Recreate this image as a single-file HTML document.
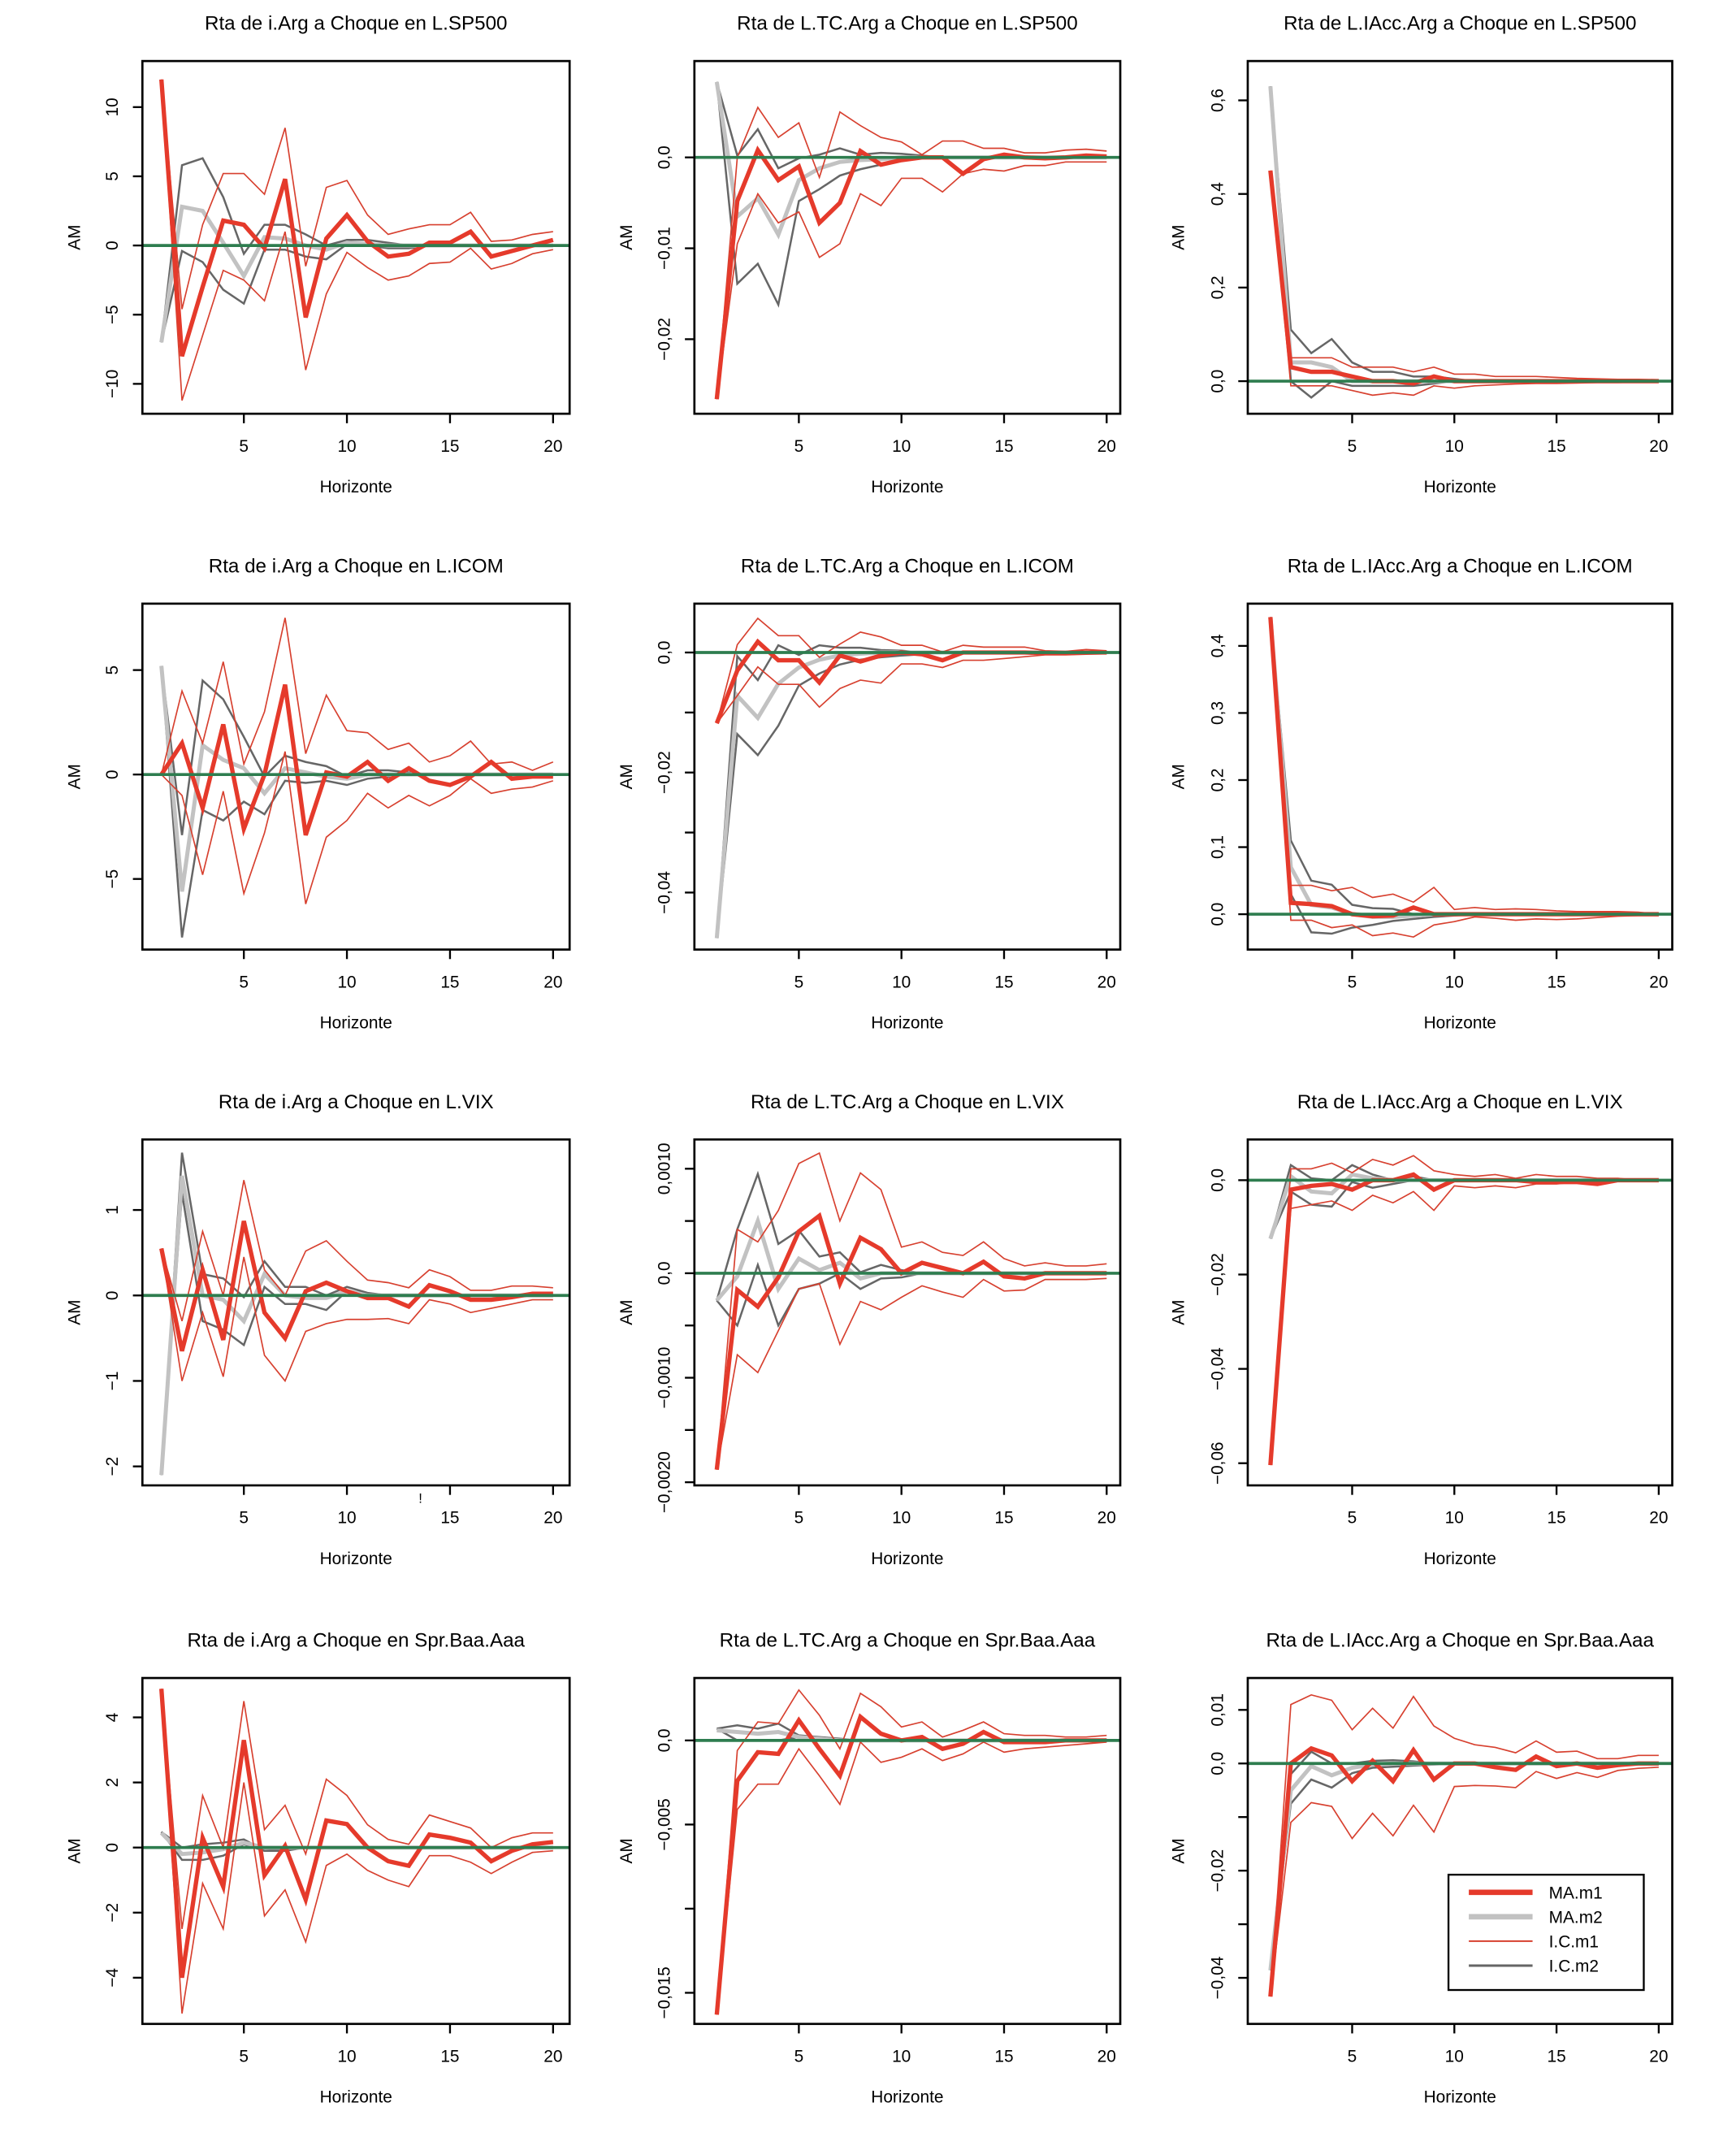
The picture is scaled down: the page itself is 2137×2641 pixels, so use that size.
<!DOCTYPE html>
<html><head><meta charset="utf-8"><title>Impulse responses</title>
<style>html,body{margin:0;padding:0;background:#fff}svg{display:block}text{font-family:"Liberation Sans",Arial,sans-serif;fill:#000}</style>
</head><body>
<svg id="fig" xmlns="http://www.w3.org/2000/svg" width="2137" height="2641" viewBox="0 0 1280 1582" preserveAspectRatio="none"></svg>
<script>
const horizons=[1,2,3,4,5,6,7,8,9,10,11,12,13,14,15,16,17,18,19,20];
const xTicks=[5,10,15,20];
const titles=["Rta de i.Arg a Choque en L.SP500","Rta de L.TC.Arg a Choque en L.SP500","Rta de L.IAcc.Arg a Choque en L.SP500",
"Rta de i.Arg a Choque en L.ICOM","Rta de L.TC.Arg a Choque en L.ICOM","Rta de L.IAcc.Arg a Choque en L.ICOM",
"Rta de i.Arg a Choque en L.VIX","Rta de L.TC.Arg a Choque en L.VIX","Rta de L.IAcc.Arg a Choque en L.VIX",
"Rta de i.Arg a Choque en Spr.Baa.Aaa","Rta de L.TC.Arg a Choque en Spr.Baa.Aaa","Rta de L.IAcc.Arg a Choque en Spr.Baa.Aaa"];
const yTop=[13.33,0.0106,0.684,8.18,0.00814,0.463,1.825,0.00128,0.00863,5.21,0.00371,0.01595];
const yBottom=[-12.16,-0.0282,-0.0696,-8.38,-0.0495,-0.0527,-2.222,-0.00203,-0.0647,-5.42,-0.01685,-0.0486];
const yTickVals=[[-10,-5,0,5,10],[-0.02,-0.01,0],[0,0.2,0.4,0.6],[-5,0,5],[-0.04,-0.03,-0.02,-0.01,0],[0,0.1,0.2,0.3,0.4],
[-2,-1,0,1],[-0.002,-0.0015,-0.001,-0.0005,0,0.0005,0.001],[-0.06,-0.04,-0.02,0],[-4,-2,0,2,4],[-0.015,-0.01,-0.005,0],[-0.04,-0.03,-0.02,-0.01,0,0.01]];
const yTickLabels=[["−10","−5","0","5","10"],["−0,02","−0,01","0,0"],["0,0","0,2","0,4","0,6"],["−5","0","5"],["−0,04","","−0,02","","0,0"],["0,0","0,1","0,2","0,3","0,4"],
["−2","−1","0","1"],["−0,0020","","−0,0010","","0,0","","0,0010"],["−0,06","−0,04","−0,02","0,0"],["−4","−2","0","2","4"],["−0,015","","−0,005","0,0"],["−0,04","","−0,02","","0,0","0,01"]];
// Panel 1
const p1_ma1=[12,-8,-3,1.8,1.5,-0.2,4.8,-5.2,0.5,2.2,0.3,-0.8,-0.6,0.2,0.2,1.0,-0.8,-0.4,0,0.4];
const p1_ma2=[-7,2.8,2.5,0.2,-2.2,0.6,0.5,0,-0.3,0.2,0.1,0,0,0,0,0,0,0,0,0];
const p1_lo1=[12,-11.2,-6.5,-1.8,-2.5,-4,1,-9,-3.5,-0.5,-1.6,-2.5,-2.2,-1.3,-1.2,-0.2,-1.7,-1.3,-0.6,-0.3];
const p1_hi1=[12,-4.6,1.5,5.2,5.2,3.7,8.5,-1.5,4.2,4.7,2.2,0.8,1.2,1.5,1.5,2.4,0.3,0.4,0.8,1.0];
const p1_lo2=[-7,-0.4,-1.2,-3.2,-4.2,-0.3,-0.3,-0.8,-1.0,0.1,0,-0.2,-0.2,0,0,0,0,0,0,0];
const p1_hi2=[-7,5.8,6.3,3.5,-0.6,1.5,1.5,0.8,0,0.4,0.4,0.2,0,0.05,0,0,0,0,0,0];
// Panel 2
const p2_ma1=[-0.0266,-0.0048,0.0008,-0.0025,-0.001,-0.0072,-0.005,0.0007,-0.0008,-0.0003,0,0,-0.0018,-0.0002,0.0003,0,-0.0001,0,0.0002,0.0001];
const p2_ma2=[0.0083,-0.0065,-0.0045,-0.0085,-0.0025,-0.0012,-0.0005,-0.0003,-0.0002,0,0,0,0,0,0,0,0,0,0,0];
const p2_lo1=[-0.0266,-0.0095,-0.004,-0.0072,-0.006,-0.011,-0.0095,-0.004,-0.0053,-0.0023,-0.0023,-0.0038,-0.0018,-0.0013,-0.0015,-0.0009,-0.0009,-0.0005,-0.0005,-0.0005];
const p2_hi1=[-0.0266,0,0.0055,0.0022,0.0038,-0.0022,0.005,0.0035,0.0022,0.0017,0.0003,0.0018,0.0018,0.001,0.001,0.0005,0.0005,0.0008,0.0009,0.0007];
const p2_lo2=[0.0083,-0.0139,-0.0117,-0.0162,-0.0048,-0.0035,-0.002,-0.0013,-0.0008,-0.0003,0,0,0,0,0,0,0,0,0,0];
const p2_hi2=[0.0083,0.0002,0.0031,-0.0012,-0.0001,0.0003,0.001,0.0003,0.0005,0.0004,0.0002,0,0,0,0,0,0,0,0,0];
// Panel 3
const p3_ma1=[0.45,0.03,0.02,0.02,0.01,0,0,-0.005,0.01,0,0,0,0,0,0,0,0,0,0,0];
const p3_ma2=[0.63,0.04,0.04,0.03,0,0,0,0,0,0,0,0,0,0,0,0,0,0,0,0];
const p3_lo1=[0.45,-0.01,-0.01,-0.01,-0.02,-0.03,-0.025,-0.03,-0.01,-0.015,-0.01,-0.008,-0.006,-0.005,-0.005,-0.004,-0.003,-0.003,-0.002,-0.002];
const p3_hi1=[0.45,0.05,0.05,0.05,0.03,0.03,0.03,0.02,0.03,0.015,0.015,0.01,0.01,0.01,0.008,0.006,0.005,0.004,0.004,0.003];
const p3_lo2=[0.63,0,-0.035,0,-0.01,-0.01,-0.01,-0.01,-0.005,0,0,0,0,0,0,0,0,0,0,0];
const p3_hi2=[0.63,0.11,0.06,0.09,0.04,0.02,0.02,0.01,0.01,0.005,0,0,0,0,0,0,0,0,0,0];
// Panel 4
const p4_ma1=[0,1.5,-1.6,2.4,-2.6,0,4.3,-2.9,0.1,-0.1,0.6,-0.3,0.3,-0.3,-0.5,-0.1,0.6,-0.2,-0.1,-0.1];
const p4_ma2=[5.2,-5.6,1.4,0.7,0.3,-0.9,0.3,0.1,-0.1,-0.2,0,0,0,0,0,0,0,0,0,0];
const p4_lo1=[0,-1.0,-4.8,-0.8,-5.7,-2.8,1.1,-6.2,-3.0,-2.2,-0.9,-1.6,-1.0,-1.5,-1.0,-0.2,-0.9,-0.7,-0.6,-0.3];
const p4_hi1=[0,4.0,1.5,5.4,0.5,3.0,7.5,1.0,3.8,2.1,2.0,1.2,1.5,0.6,0.9,1.6,0.5,0.6,0.2,0.6];
const p4_lo2=[5.2,-7.8,-1.7,-2.2,-1.3,-1.9,-0.3,-0.4,-0.3,-0.5,-0.2,-0.1,0,0,0,0,0,0,0,0];
const p4_hi2=[5.2,-2.9,4.5,3.6,1.8,-0.1,0.9,0.6,0.4,-0.1,0.2,0.2,0.1,0,0,0,0,0,0,0];
// Panel 5
const p5_ma1=[-0.0118,-0.003,0.0018,-0.0013,-0.0013,-0.005,-0.0005,-0.0015,-0.0005,0,-0.0003,-0.0013,0,0,0,0,-0.0001,-0.0001,0,0];
const p5_ma2=[-0.0476,-0.0072,-0.0109,-0.0052,-0.0025,-0.0012,-0.0005,-0.0002,0,0,0,0,0,0,0,0,0,0,0,0];
const p5_lo1=[-0.0118,-0.0072,-0.0024,-0.0053,-0.0053,-0.0091,-0.006,-0.0046,-0.0051,-0.0019,-0.0019,-0.0025,-0.0013,-0.0013,-0.001,-0.0007,-0.0004,-0.0004,-0.0003,-0.0002];
const p5_hi1=[-0.0118,0.0013,0.0057,0.0028,0.0028,-0.0008,0.0014,0.0034,0.0026,0.0012,0.0012,0.0001,0.0012,0.0009,0.0009,0.0009,0.0003,0.0002,0.0005,0.0003];
const p5_lo2=[-0.0476,-0.0136,-0.0171,-0.0122,-0.0055,-0.0035,-0.002,-0.0012,-0.0008,-0.0005,-0.0003,0,0,0,0,0,0,0,0,0];
const p5_hi2=[-0.0476,-0.0006,-0.0046,0.0012,-0.0004,0.0012,0.0008,0.0008,0.0004,0.0003,0,0,0,0,0,0,0,0,0,0];
// Panel 6
const p6_ma1=[0.443,0.017,0.015,0.012,0,-0.003,-0.002,0.01,0,0,0,0,0,0,0,0,0,0,0,0];
const p6_ma2=[0.443,0.07,0.014,0.01,0,-0.004,-0.004,-0.002,0,0,0,0,0,0,0,0,0,0,0,0];
const p6_lo1=[0.443,-0.009,-0.009,-0.02,-0.016,-0.032,-0.028,-0.034,-0.016,-0.011,-0.004,-0.006,-0.009,-0.007,-0.008,-0.007,-0.005,-0.003,-0.002,-0.002];
const p6_hi1=[0.443,0.043,0.043,0.035,0.04,0.025,0.03,0.018,0.04,0.007,0.01,0.007,0.008,0.007,0.005,0.004,0.004,0.004,0.003,0];
const p6_lo2=[0.443,0.03,-0.027,-0.029,-0.02,-0.016,-0.01,-0.007,-0.004,-0.002,0,0,0,0,0,0,0,0,0,0];
const p6_hi2=[0.443,0.11,0.05,0.044,0.014,0.009,0.008,0,0,0,0,0,0,0,0,0,0,0,0,0];
// Panel 7
const p7_ma1=[0.55,-0.65,0.3,-0.52,0.87,-0.2,-0.5,0.05,0.15,0.05,-0.03,-0.03,-0.13,0.12,0.05,-0.05,-0.05,-0.02,0.02,0.02];
const p7_ma2=[-2.1,1.4,0,-0.05,-0.3,0.25,0,-0.03,-0.03,0.05,0,0,0,0,0,0,0,0,0,0];
const p7_lo1=[0.55,-1.0,-0.2,-0.95,0.45,-0.7,-1.0,-0.42,-0.33,-0.28,-0.28,-0.27,-0.33,-0.05,-0.1,-0.2,-0.15,-0.1,-0.05,-0.05];
const p7_hi1=[0.55,-0.3,0.75,0,1.35,0.3,0,0.52,0.64,0.4,0.18,0.15,0.09,0.3,0.22,0.06,0.06,0.11,0.11,0.09];
const p7_lo2=[-2.1,1.2,-0.3,-0.4,-0.58,0.1,-0.1,-0.1,-0.17,0.05,0,0,0,0,0,0,0,0,0,0];
const p7_hi2=[-2.1,1.67,0.25,0.2,-0.02,0.4,0.1,0.1,0,0.1,0.03,0,0,0,0,0,0,0,0,0];
// Panel 8
const p8_ma1=[-0.00188,-0.00016,-0.00032,-0.00004,0.0004,0.00055,-0.0001,0.00034,0.00023,0,0.0001,0.00005,0,0.00011,-0.00003,-0.00005,0,0,0,0];
const p8_ma2=[-0.00026,-0.00003,0.0005,-0.00015,0.00014,0.00003,0.0001,-0.00005,0,0,0,0,0,0,0,0,0,0,0,0];
const p8_lo1=[-0.00188,-0.00078,-0.00095,-0.00055,-0.00015,-0.0001,-0.00068,-0.00027,-0.00035,-0.00023,-0.00012,-0.00018,-0.00023,-0.00006,-0.00017,-0.00016,-0.00006,-0.00006,-0.00006,-0.00005];
const p8_hi1=[-0.00188,0.00042,0.0003,0.0006,0.00105,0.00115,0.0005,0.00096,0.0008,0.00025,0.0003,0.0002,0.00017,0.0003,0.00014,0.00007,0.0001,0.00007,0.00007,0.00009];
const p8_lo2=[-0.00026,-0.0005,0.00008,-0.0005,-0.00015,-0.0001,0,-0.00015,-0.00005,-0.00004,0,0,0,0,0,0,0,0,0,0];
const p8_hi2=[-0.00026,0.00042,0.00095,0.00028,0.00041,0.00016,0.0002,0.00001,0.00008,0.00003,0,0,0,0,0,0,0,0,0,0];
// Panel 9
const p9_ma1=[-0.0604,-0.002,-0.0012,-0.0008,-0.002,0,0,0.0012,-0.002,0,0,0,0,-0.0004,-0.0004,-0.0004,-0.0008,0,0,0];
const p9_ma2=[-0.0124,0.0008,-0.0024,-0.0028,0.0012,0.0004,0,0,0,0,0,0,0,0,0,0,0,0,0,0];
const p9_lo1=[-0.0604,-0.006,-0.0052,-0.0044,-0.0064,-0.0032,-0.0048,-0.0024,-0.0064,-0.0012,-0.0016,-0.0012,-0.0016,-0.0008,-0.0008,-0.0004,-0.0004,0,0,0];
const p9_hi1=[-0.0604,0.0024,0.0024,0.0036,0.0016,0.0044,0.0032,0.0052,0.002,0.0012,0.0008,0.0012,0.0004,0.0012,0.0008,0.0008,0.0004,0.0004,0,0];
const p9_lo2=[-0.0124,-0.0024,-0.0052,-0.0056,-0.0004,-0.0016,-0.0008,0,0,0,0,0,0,0,0,0,0,0,0,0];
const p9_hi2=[-0.0124,0.0032,0.0004,0,0.0032,0.0012,0,0.0008,0,0,0,0,0,0,0,0,0,0,0,0];
// Panel 10
const p10_ma1=[4.88,-4.0,0.3,-1.2,3.3,-0.85,0.05,-1.6,0.83,0.72,0,-0.42,-0.56,0.4,0.3,0.15,-0.42,-0.1,0.1,0.17];
const p10_ma2=[0.45,-0.2,-0.15,-0.05,0.15,0,0,0,0,0,0,0,0,0,0,0,0,0,0,0];
const p10_lo1=[4.88,-5.1,-1.1,-2.5,2.0,-2.1,-1.3,-2.9,-0.55,-0.2,-0.7,-1.0,-1.2,-0.25,-0.25,-0.45,-0.8,-0.45,-0.15,-0.1];
const p10_hi1=[4.88,-2.5,1.6,0,4.5,0.55,1.3,-0.2,2.1,1.6,0.7,0.25,0.1,1.0,0.8,0.6,0,0.3,0.45,0.45];
const p10_lo2=[0.48,-0.38,-0.38,-0.25,0.1,-0.1,-0.05,0,0,0,0,0,0,0,0,0,0,0,0,0];
const p10_hi2=[0.48,0,0.1,0.15,0.25,-0.1,-0.1,0,0,0,0,0,0,0,0,0,0,0,0,0];
// Panel 11
const p11_ma1=[-0.0163,-0.0024,-0.0007,-0.0008,0.0012,-0.0005,-0.0021,0.0014,0.0004,0,0.0002,-0.0005,-0.0002,0.0005,-0.0001,-0.0001,-0.0001,0,0,0];
const p11_ma2=[0.0006,0.0005,0.0004,0.0005,0.0002,0.0001,0,0,0,0,0,0,0,0,0,0,0,0,0,0];
const p11_lo1=[-0.0163,-0.0041,-0.0026,-0.0026,-0.0005,-0.0021,-0.0038,-0.0001,-0.0013,-0.001,-0.0005,-0.0012,-0.0008,-0.0001,-0.0007,-0.0005,-0.0004,-0.0003,-0.0002,-0.0001];
const p11_hi1=[-0.0163,-0.0006,0.0011,0.001,0.003,0.0015,-0.0005,0.0028,0.002,0.0008,0.0011,0.0002,0.0006,0.0011,0.0004,0.0003,0.0003,0.0002,0.0002,0.0003];
const p11_lo2=[0.0007,0,0,0,0.0002,0.0001,0,0,0,0,0,0,0,0,0,0,0,0,0,0];
const p11_hi2=[0.0007,0.0009,0.0007,0.001,0.0003,0.0002,0.0001,0,0,0,0,0,0,0,0,0,0,0,0,0];
// Panel 12
const p12_ma1=[-0.0435,0,0.0028,0.0015,-0.0033,0.0005,-0.0033,0.0025,-0.003,0,0,-0.0007,-0.0012,0.0013,-0.0005,0,-0.0008,-0.0003,0,0];
const p12_ma2=[-0.0386,-0.005,-0.0005,-0.0022,-0.0008,-0.0002,0,0,0,0,0,0,0,0,0,0,0,0,0,0];
const p12_lo1=[-0.0435,-0.011,-0.0073,-0.008,-0.014,-0.0093,-0.0135,-0.0078,-0.0128,-0.0043,-0.0041,-0.0042,-0.0045,-0.0015,-0.0028,-0.0017,-0.0026,-0.0013,-0.0009,-0.0007];
const p12_hi1=[-0.0435,0.011,0.0128,0.0118,0.0063,0.0103,0.0066,0.0125,0.007,0.0047,0.0035,0.003,0.002,0.0042,0.0021,0.0023,0.0009,0.0009,0.0015,0.0015];
const p12_lo2=[-0.0386,-0.0075,-0.003,-0.0045,-0.0018,-0.0008,-0.0006,-0.0004,-0.0002,0,0,0,0,0,0,0,0,0,0,0];
const p12_hi2=[-0.0386,-0.002,0.0022,0,0,0.0005,0.0006,0.0004,0,0,0,0,0,0,0,0,0,0,0,0];
const panels=[
[p1_ma1,p1_ma2,p1_lo1,p1_hi1,p1_lo2,p1_hi2],[p2_ma1,p2_ma2,p2_lo1,p2_hi1,p2_lo2,p2_hi2],[p3_ma1,p3_ma2,p3_lo1,p3_hi1,p3_lo2,p3_hi2],
[p4_ma1,p4_ma2,p4_lo1,p4_hi1,p4_lo2,p4_hi2],[p5_ma1,p5_ma2,p5_lo1,p5_hi1,p5_lo2,p5_hi2],[p6_ma1,p6_ma2,p6_lo1,p6_hi1,p6_lo2,p6_hi2],
[p7_ma1,p7_ma2,p7_lo1,p7_hi1,p7_lo2,p7_hi2],[p8_ma1,p8_ma2,p8_lo1,p8_hi1,p8_lo2,p8_hi2],[p9_ma1,p9_ma2,p9_lo1,p9_hi1,p9_lo2,p9_hi2],
[p10_ma1,p10_ma2,p10_lo1,p10_hi1,p10_lo2,p10_hi2],[p11_ma1,p11_ma2,p11_lo1,p11_hi1,p11_lo2,p11_hi2],[p12_ma1,p12_ma2,p12_lo1,p12_hi1,p12_lo2,p12_hi2]];
const legendLabels=["MA.m1","MA.m2","I.C.m1","I.C.m2"];

const NS="http://www.w3.org/2000/svg";
const svg=document.getElementById('fig');
const boxX=[[105,420],[512,826],[920,1233]];
const boxY=[[45,305],[445,700],[840,1095],[1237,1492]];
const xMap=[[119,15.2],[528.5,15.13],[936.7,15.07]];
function mk(tag,attrs,parent){const e=document.createElementNS(NS,tag);for(const k in attrs)e.setAttribute(k,attrs[k]);(parent||svg).appendChild(e);return e;}
function txt(s,x,y,size,parent,extra){const t=mk('text',Object.assign({x:x,y:y,'font-size':size,'text-anchor':'middle'},extra||{}),parent);t.textContent=s;return t;}

for(let p=0;p<12;p++){
  const c=p%3,r=Math.floor(p/3);
  const [x0,x1]=boxX[c],[y0,y1]=boxY[r];
  const g=mk('g',{});
  
  
  const sx=h=>xMap[c][0]+(h-1)*xMap[c][1];
  const sy=v=>y0+(yTop[p]-v)/(yTop[p]-yBottom[p])*(y1-y0);
  const t=txt(titles[p],(x0+x1)/2,y0-23,14.5,g);
  
  
  xTicks.forEach(h=>{
    mk('line',{x1:sx(h),x2:sx(h),y1:y1,y2:y1+7,stroke:'#000','stroke-width':1.4},g);
    const l=txt(String(h),sx(h),y1+28,12.5,g);
    
    
  });
  const xl=txt('Horizonte',(x0+x1)/2,y1+58,12.5,g);
  
  
  const lx=[83,490,898][c];
  yTickVals[p].forEach((v,i)=>{
    mk('line',{x1:x0-7,x2:x0,y1:sy(v),y2:sy(v),stroke:'#000','stroke-width':1.4},g);
    const s=yTickLabels[p][i];
    if(s){const l=txt(s,lx,sy(v),12.5,g,{transform:'rotate(-90 '+lx+' '+sy(v)+')','dominant-baseline':'central'});
      
      }
  });
  const ax=[55,462,869][c],ay=(y0+y1)/2;
  const yl=txt('AM',ax,ay,12.5,g,{transform:'rotate(-90 '+ax+' '+ay+')','dominant-baseline':'central'});
  
  
  const cp=mk('clipPath',{id:'cp'+p},g);
  mk('rect',{x:x0,y:y0,width:x1-x0,height:y1-y0},cp);
  const lg=mk('g',{'clip-path':'url(#cp'+p+')'},g);
  const [ma1,ma2,lo1,hi1,lo2,hi2]=panels[p];
  const series=[
    [lo2,'#666666',1.5,'ic-m2-lower'],[hi2,'#666666',1.5,'ic-m2-upper'],
    [ma2,'#c2c2c2',3,'ma-m2-line'],
    [lo1,'#d7402f',1,'ic-m1-lower'],[hi1,'#d7402f',1,'ic-m1-upper'],
    [ma1,'#e53a2b',3.2,'ma-m1-line']];
  series.forEach(([d,col,w,nm])=>{
    const pts=horizons.map((h,i)=>sx(h).toFixed(2)+','+sy(d[i]).toFixed(2)).join(' ');
    const pl=mk('polyline',{points:pts,fill:'none',stroke:col,'stroke-width':w,'stroke-linejoin':'miter'},lg);
    
    
  });
  const z=mk('line',{x1:x0,x2:x1,y1:sy(0),y2:sy(0),stroke:'#2e7d4f','stroke-width':2.2},lg);
  
  
  const b=mk('rect',{x:x0,y:y0,width:x1-x0,height:y1-y0,fill:'none',stroke:'#000','stroke-width':1.6},g);
  
  
}
const lgd=mk('g',{});


mk('rect',{x:1068,y:1382,width:144,height:85,fill:'#fff',stroke:'#000','stroke-width':1.4},lgd);
const legCols=['#e53a2b','#c2c2c2','#d7402f','#666666'],legW=[4,4,1.2,1.8];
legendLabels.forEach((s,i)=>{
  const y=1395+i*18;
  const ln=mk('line',{x1:1083,x2:1130,y1:y,y2:y,stroke:legCols[i],'stroke-width':legW[i]},lgd);
  
  
  const t=txt(s,1142,y+4.5,12.5,lgd,{'text-anchor':'start'});
  
  
});
const bang=txt('!',310,1108,10,svg);


</script>
</body></html>
